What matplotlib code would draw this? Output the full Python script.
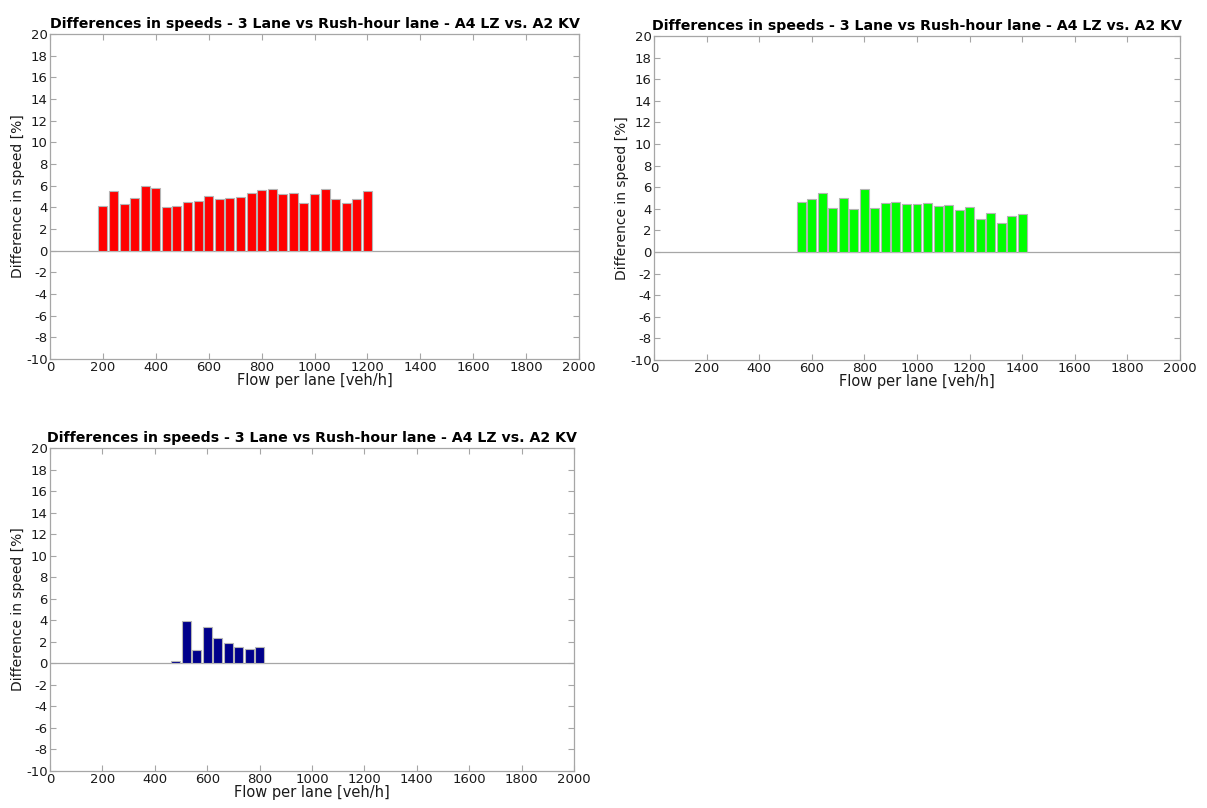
import matplotlib
matplotlib.use('Agg')
from matplotlib import pyplot as plt
import numpy as np

# speed differences per flow class, 40 veh/h bins
flow_red = np.arange(200, 1201, 40)
diff_red = [4.1, 5.5, 4.3, 4.9, 5.95, 5.8, 4.0, 4.15, 4.5, 4.6, 5.05, 4.75, 4.85,
            4.95, 5.35, 5.6, 5.65, 5.2, 5.35, 4.4, 5.2, 5.65, 4.75, 4.4, 4.8, 5.55]

flow_green = np.arange(560, 1401, 40)
diff_green = [4.6, 4.9, 5.45, 4.05, 5.0, 4.0, 5.8, 4.05, 4.5, 4.6, 4.45, 4.4, 4.5,
              4.25, 4.35, 3.85, 4.15, 3.05, 3.65, 2.65, 3.35, 3.55]

flow_blue = np.arange(480, 801, 40)
diff_blue = [0.2, 3.9, 1.2, 3.4, 2.35, 1.9, 1.55, 1.3, 1.55]

title = 'Differences in speeds - 3 Lane vs Rush-hour lane - A4 LZ vs. A2 KV'
xticks = np.arange(0, 2001, 200)
yticks = np.arange(-10, 21, 2)

spine_gray = '#a6a6a6'
label_color = '#1a1a1a'

matplotlib.rcParams['font.family'] = 'DejaVu Sans'
matplotlib.rcParams['axes.unicode_minus'] = False

fig = plt.figure(figsize=(12.07, 8.08), dpi=100)
W, H = 1207, 808


def panel(box, x, y, color):
    l, t, r, b = box
    ax = fig.add_axes([l / W, 1 - b / H, (r - l) / W, (b - t) / H])
    ax.bar(x, y, width=34, color=color, edgecolor='#b5b5b5', linewidth=0.8, zorder=3)
    ax.axhline(0, color=spine_gray, lw=0.9, zorder=2)
    ax.set_xlim(0, 2000)
    ax.set_ylim(-10, 20)
    ax.set_xticks(xticks)
    ax.set_yticks(yticks)
    ax.tick_params(axis='both', direction='in', which='both', length=4,
                   color=spine_gray, labelcolor=label_color, labelsize=9.5,
                   top=True, right=True, pad=1.5)
    for s in ax.spines.values():
        s.set_color(spine_gray)
        s.set_linewidth(0.9)
    ax.set_title(title, fontsize=10.2, fontweight='bold', pad=4)
    ax.set_xlabel('Flow per lane [veh/h]', fontsize=10.5, color=label_color, labelpad=-1)
    ax.set_ylabel('Difference in speed [%]', fontsize=10, color=label_color, labelpad=1)
    return ax


panel((50, 34, 579, 359), flow_red, diff_red, '#ff0000')
panel((654, 36, 1180, 360), flow_green, diff_green, '#00ff00')
panel((50, 448, 574, 771), flow_blue, diff_blue, '#00008b')

plt.savefig('out.png', dpi=100, facecolor='w')
